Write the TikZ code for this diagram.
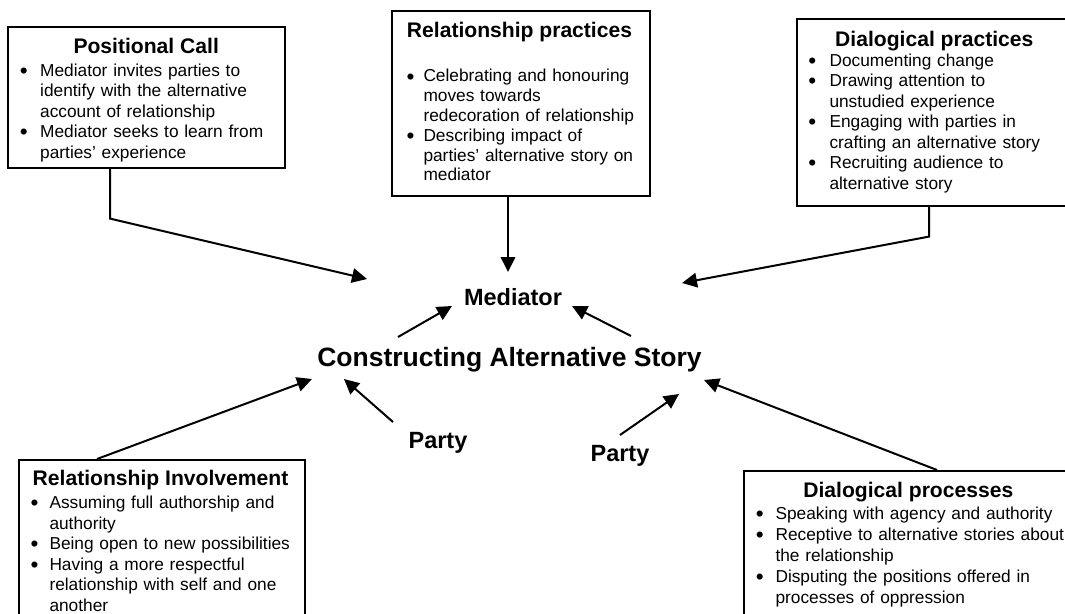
\documentclass[tikz,border=0pt]{standalone}
\usepackage{fontspec}
\usepackage{graphicx}
\setmainfont{Liberation Sans}
\usetikzlibrary{arrows.meta}
\newlength{\bulind}
\newcommand{\bdot}{\hspace{-0.6pt}\raisebox{-2.2pt}{\scalebox{1.3}{\textbullet}}}
\newcommand{\bfirst}{\hangindent=\bulind\hangafter=1\makebox[\bulind][l]{\bdot}\strut}
\newcommand{\bitem}{\par\noindent\bfirst}
\newcommand{\nl}{\unskip\hfil\break}
\begin{document}
\begin{tikzpicture}[x=1pt,y=-1pt,
  box/.style={draw, line width=1.6pt, inner sep=0pt, anchor=north west},
  titletext/.style={anchor=base, inner sep=0pt, font=\fontsize{21.1}{25}\selectfont\bfseries},
  bodytext/.style={anchor=north west, inner sep=0pt, text width=330pt, font=\fontsize{17.3}{20.5}\selectfont},
  bigtext/.style={anchor=base, inner sep=0pt, font=\fontsize{23.5}{28}\selectfont\bfseries},
  arr/.style={line width=2pt, -{Triangle[length=15pt,width=14.5pt]}}]
\useasboundingbox (0,0) rectangle (1065,613);

% boxes
\node[box, minimum width=277pt, minimum height=141pt] (pc) at (7,26) {};
\node[box, minimum width=258pt, minimum height=185pt] (rp) at (391,10) {};
\node[box, minimum width=290pt, minimum height=187pt] (dpr) at (796,18) {};
\node[box, minimum width=286pt, minimum height=170pt] (ri) at (18,459) {};
\node[box, minimum width=340pt, minimum height=160pt] (dproc) at (743,470) {};

% titles
\node[titletext] (pct) at (146.2,53.3) {Positional Call};
\node[titletext] (rpt) at (519.5,37.3) {Relationship practices};
\node[titletext] (dprt) at (934.3,46) {Dialogical practices};
\node[titletext] (rit) at (160.5,485.7) {Relationship Involvement};
\node[titletext] (dproct) at (908.3,497.3) {Dialogical processes};

% bodies
\node[bodytext] (pcb) at (20.3,61.65) {\setlength{\bulind}{19.7pt}%
\bfirst Mediator invites parties to\nl identify with the alternative\nl account of relationship
\bitem Mediator seeks to learn from\nl parties’ experience\par};
\node[bodytext, font=\fontsize{17.3}{19.8}\selectfont] (rpb) at (407,67.8) {\setlength{\bulind}{16.3pt}%
\bfirst Celebrating and honouring\nl moves towards\nl redecoration of relationship
\bitem Describing impact of\nl parties’ alternative story on\nl mediator\par};
\node[bodytext] (dprb) at (808.7,51.65) {\setlength{\bulind}{20.6pt}%
\bfirst Documenting change
\bitem Drawing attention to\nl unstudied experience
\bitem Engaging with parties in\nl crafting an alternative story
\bitem Recruiting audience to\nl alternative story\par};
\node[bodytext] (rib) at (31,494) {\setlength{\bulind}{18.3pt}%
\bfirst Assuming full authorship and\nl authority
\bitem Being open to new possibilities
\bitem Having a more respectful\nl relationship with self and one\nl another\par};
\node[bodytext, font=\fontsize{17.3}{21}\selectfont] (dprocb) at (756.3,504.3) {\setlength{\bulind}{19pt}%
\bfirst Speaking with agency and authority
\bitem Receptive to alternative stories about\nl the relationship
\bitem Disputing the positions offered in\nl processes of oppression\par};

% centre
\node[bigtext] (med) at (513,305) {Mediator};
\node[bigtext, font=\fontsize{26.5}{31}\selectfont\bfseries] (cas) at (509.5,366.7) {Constructing Alternative Story};
\node[bigtext] (pl) at (438,448.3) {Party};
\node[bigtext] (pr) at (620,461.7) {Party};

% arrow end points
\coordinate (t1) at (367,279);
\coordinate (t2) at (508,272);
\coordinate (t3) at (682,283);
\coordinate (t4) at (312,379);
\coordinate (t5) at (704,380);
\coordinate (c1s) at (398,337);
\coordinate (c1t) at (452,306);
\coordinate (c2s) at (631,336);
\coordinate (c2t) at (572,306);
\coordinate (p1s) at (393,422);
\coordinate (p1t) at (344,379);
\coordinate (p2s) at (620,435);
\coordinate (p2t) at (679,394);

% connectors
\draw[arr] ([xshift=103pt]pc.south west) -- ++(0,50) -- (t1);
\draw[arr] ([xshift=117pt]rp.south west) -- (t2);
\draw[arr] ([xshift=133pt]dpr.south west) -- ++(0,30) -- (t3);
\draw[arr] ([xshift=79pt]ri.north west) -- (t4);
\draw[arr] ([xshift=194pt]dproc.north west) -- (t5);
\draw[arr] (c1s) -- (c1t);
\draw[arr] (c2s) -- (c2t);
\draw[arr] (p1s) -- (p1t);
\draw[arr] (p2s) -- (p2t);
\end{tikzpicture}
\end{document}
